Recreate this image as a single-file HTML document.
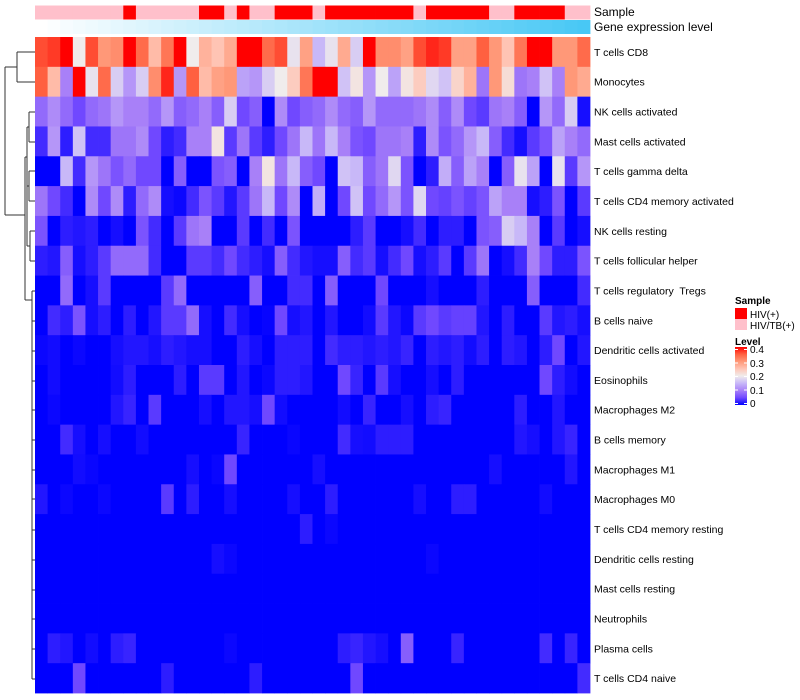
<!DOCTYPE html>
<html><head><meta charset="utf-8"><style>
html,body{margin:0;padding:0;background:#fff;width:800px;height:700px;overflow:hidden;font-family:"Liberation Sans",sans-serif}
svg text{font-family:"Liberation Sans",sans-serif;white-space:pre}
</style></head><body>
<svg id="chart" width="800" height="700" xmlns="http://www.w3.org/2000/svg">
<g id="dendro" stroke="#333" stroke-width="1" fill="none">
<path d="M5,67 V215 M5,67 H17 M5,215 H25 M17,52 V82 M17,52 H35 M17,82 H35"/>
<path d="M25,157 V300 M25,157 H27 M25,300 H32"/>
<path d="M27,127 V186 M27,127 H29 M27,186 H29 M29,112 V142 M29,112 H35 M29,142 H35 M29,171 V201 M29,171 H35 M29,201 H35"/>
<path d="M27,186 V246 M27,246 H30 M30,231 V261 M30,231 H35 M30,261 H35"/>
<path d="M32,291 V679 M32,291 H35 M32,321 H35 M32,351 H35 M32,381 H35 M32,410 H35 M32,440 H35 M32,470 H35 M32,499 H35 M32,530 H35 M32,560 H35 M32,590 H35 M32,619 H35 M32,649 H35 M32,679 H35"/>
</g>
<g id="cells"></g>
<g id="annot"></g>
<g id="labels"></g>
<text x="594" y="16" font-size="12">Sample</text>
<text x="594" y="31" font-size="12">Gene expression level</text>
<g>
<text x="735" y="304" font-size="10" font-weight="bold">Sample</text>
<rect x="735" y="308" width="12" height="11" fill="#FF0000"/>
<text x="750" y="318" font-size="10">HIV(+)</text>
<rect x="735" y="319" width="12" height="11" fill="#FFC0CB"/>
<text x="750" y="329" font-size="10">HIV/TB(+)</text>
</g>
<defs><linearGradient id="lg" x1="0" y1="1" x2="0" y2="0">
<stop offset="0" stop-color="#0000FF"/><stop offset="0.125" stop-color="#7048FF"/><stop offset="0.25" stop-color="#A880F8"/><stop offset="0.375" stop-color="#C8B8F8"/><stop offset="0.5" stop-color="#F0ECEC"/><stop offset="0.625" stop-color="#FFC4B4"/><stop offset="0.75" stop-color="#FF9878"/><stop offset="0.875" stop-color="#FF6040"/><stop offset="1" stop-color="#FF0000"/>
</linearGradient></defs>
<g>
<text x="735" y="345" font-size="10" font-weight="bold">Level</text>
<rect x="735" y="347" width="12" height="58" fill="url(#lg)"/>
<g stroke="#fff" stroke-width="1"><path d="M735,349.5h3M744,349.5h3M735,363h3M744,363h3M735,376.5h3M744,376.5h3M735,390h3M744,390h3M735,403.5h3M744,403.5h3"/></g>
<text x="750" y="353" font-size="10">0.4</text>
<text x="750" y="367" font-size="10">0.3</text>
<text x="750" y="380" font-size="10">0.2</text>
<text x="750" y="394" font-size="10">0.1</text>
<text x="750" y="407" font-size="10">0</text>
</g>
</svg>
<script>
const rowNames = ["T cells CD8","Monocytes","NK cells activated","Mast cells activated","T cells gamma delta","T cells CD4 memory activated","NK cells resting","T cells follicular helper","T cells regulatory  Tregs","B cells naive","Dendritic cells activated","Eosinophils","Macrophages M2","B cells memory","Macrophages M1","Macrophages M0","T cells CD4 memory resting","Dendritic cells resting","Mast cells resting","Neutrophils","Plasma cells","T cells CD4 naive"];
const sampleGroups = "PPPPPPPRPPPPPRRPRPPRRRPRRRRRRRPRRRRRPPRRRRPP";
const r01 = [36,37,40,20,36,30,31,40,34,26,33,40,20,27,25,28,40,40,34,36,19,29,15,19,28,17,40,31,31,29,36,38,37,29,29,35,30,25,33,40,40,30,30,34];
const r02 = [35,26,10,40,19,34,17,12,17,31,38,12,35,26,29,30,13,12,17,20,24,33,40,40,16,21,12,20,13,21,24,18,16,23,27,9,30,22,9,10,16,10,30,28];
const r03 = [8,11,8,5,8,9,12,10,10,8,12,7,8,10,7,17,5,7,0,11,5,7,8,11,8,7,12,8,8,8,9,11,7,11,5,4,9,10,7,0,12,8,17,1];
const r04 = [3,12,2,16,3,3,9,9,11,5,2,3,10,10,21,4,9,4,2,5,9,15,9,15,10,6,5,9,9,10,2,11,6,8,12,15,7,3,1,4,6,13,10,8];
const r05 = [0,0,15,3,12,9,6,8,5,5,0,7,0,0,6,7,0,10,21,9,15,7,5,0,16,15,7,9,18,6,0,2,14,7,13,10,0,7,19,13,0,19,4,12];
const r06 = [9,5,3,0,11,5,11,2,8,11,1,0.5,3,6,4,1.5,4,9,15,5,11,0,14,0,5,16,5,8,12,6,18,5,4.5,6,4.5,6,13,10,10,1,2,6,0,4];
const r07 = [6,0,2,1.5,2,0,1,0,6,3,0,4,9,10,0,0,4,0,3,0,6,0,0,0,0,2,4,0,0,1,3,0,2,2,0,6,7,17,15,10,0,4,0,1];
const r08 = [2,1.5,7,1,2,4,8,8,8,3,0,0,4,4,3,5,3,2,1,7,3,1.5,1,1,7,3,4,1,3,5,1,2,4,0,4,9,0,1,3,10,5,2,2,6];
const r09 = [0,0,8,0,1,4,0,0,0,0,4,8,0,0,0,0,0,7,0,0,3,3,0,7,0,0,0,5,0,0,0,1,0,0,0,2,0,0,0,7,0,0,0,3];
const r10 = [0,3,2,6,1,2,0,2,0,1.5,4,4,8,1,0,3,1,0,0.3,5,1,1.5,0,1.5,0,0,0.8,4,1.5,0.5,4,5,4,4.5,4.5,1.5,0,2,0,0,4,1.5,2,1];
const r11 = [0.5,0.8,0,0.5,0,0,1,1.5,1.5,1,2,1.5,1,1,0,0,2,1,0,2,2,2,0,3,2,2,1.5,2,1.5,2.5,0,2,1.5,2,0.8,2,0,2,1.5,0,2,5,0,1.5];
const r12 = [0,0.8,0,0,0,0,0.8,2,0,0,0,2,0,4,4,0,1.5,0,0.5,2,2,1.5,0,0,5,2.5,0,4,1,0,0,1,0,2,0,0,0,0,0,0,5,2,0.8,0];
const r13 = [0,0.5,0,0,0,0,1.5,2.5,0,4,0,0,0,1,0,1.5,1.5,1,5,0.8,0,0,0,0,0.8,0,2.5,0,0,1,0,2,2.5,0,0,0,0,0,2,0,0,1.5,0,0];
const r14 = [0,0,3,1,0,1,0,0,0.8,0,0,0,0,0,0,0,2.5,0,0,0,0.4,0,0,0,3,1,0.8,2,2,2,0,0,0,0,0,0,0,0,1.5,1,0,1.5,2.5,0];
const r15 = [0,0,0,0.8,0.4,0,0,0,0,0,0,0,1,0,0.4,5,0,0,0,0,0,0,1,0,0,0,0,0,0,0,0,0,0,0,0,0,1,0,0,0,0,0,1.5,0];
const r16 = [1.5,0,0.5,0,0,0.5,0,0,0,0,4,0,2,0,0,1,0,0,0,0,1,0,0,2,0,0,0,0,0,0,1,0,0,2,2,0,0,0,0,0,0.8,0,0,0];
const r17 = [0,0,0,0,0,0,0,0,0,0,0,0,0,0,0,0,0,0,0,0,0,2,0,0.5,0,0,0,0,0,0,0,0,0,0,0,0,0,0,0,0,0,0,0,0];
const r18 = [0,0,0,0,0,0,0,0,0,0,0,0,0,0,1,0.5,0,0,0,0,0,0,0,0,0,0,0,0,0,0,0,0.5,0,0,0,0,0,0,0,0,0,0,0,0];
const r19 = [0,0,0,0,0,0,0,0,0,0,0,0,0,0,0,0,0,0,0,0,0,0,0,0,0,0,0,0,0,0,0,0,0,0,0,0,0,0,0,0,0,0,0,0];
const r20 = [0,0,0,0,0,0,0,0,0,0,0,0,0,0,0,0,0,0,0,0,0,0,0,0,0,0,0,0,0,0,0,0,0,0,0,0,0,0,0,0,0,0,0,0];
const r21 = [0,2,1.5,0,0.8,0,2,2.5,0,0,0,0,0,0,0,0.5,0,0,0,0,0,0,0,0,2,2.5,1.5,1,0,7,0,0,0,2.5,0,0,0,0,0,0,3,0,2.5,0];
const r22 = [0,0,0,5,0,0,0,0,0,0,2,0,0,0,0,0,0,2,0,0,0,0,0,0,0,5,0,0,0,0,0,0,0,0,0,0,0,0,0,0,0,0,0,3];
const matrix = [r01,r02,r03,r04,r05,r06,r07,r08,r09,r10,r11,r12,r13,r14,r15,r16,r17,r18,r19,r20,r21,r22];

const NS = "http://www.w3.org/2000/svg";
const X0 = 35, X1 = 590, Y0 = 37, Y1 = 693;
const nCols = r01.length, nRows = matrix.length;
const colW = (X1 - X0) / nCols, rowH = (Y1 - Y0) / nRows;
const xPos = c => X0 + c * colW;
const yPos = r => Y0 + r * rowH;
const stops = [[0,[0,0,255]],[0.05,[112,72,255]],[0.1,[168,128,248]],[0.15,[200,184,248]],[0.2,[240,236,236]],[0.25,[255,196,180]],[0.3,[255,152,120]],[0.35,[255,96,64]],[0.4,[255,0,0]]];
function colorOf(v){
  v = Math.max(0, Math.min(0.4, v));
  for (let i = 1; i < stops.length; i++) {
    if (v <= stops[i][0]) {
      const [a, ca] = stops[i-1], [b, cb] = stops[i];
      const t = (v - a) / (b - a);
      return "rgb(" + ca.map((c, k) => Math.round(c + (cb[k] - c) * t)).join(",") + ")";
    }
  }
  return "rgb(255,0,0)";
}
const cells = document.getElementById("cells");
matrix.forEach((row, r) => {
  row.forEach((val, c) => {
    const el = document.createElementNS(NS, "rect");
    el.setAttribute("x", xPos(c).toFixed(2));
    el.setAttribute("y", yPos(r).toFixed(2));
    el.setAttribute("width", (colW + 0.4).toFixed(2));
    el.setAttribute("height", (rowH + 0.4).toFixed(2));
    el.setAttribute("fill", colorOf(val / 100));
    
    
    cells.appendChild(el);
  });
});
const annot = document.getElementById("annot");
for (let c = 0; c < nCols; c++) {
  const s = document.createElementNS(NS, "rect");
  s.setAttribute("x", xPos(c).toFixed(2)); s.setAttribute("y", 5.5);
  s.setAttribute("width", (colW + 0.4).toFixed(2)); s.setAttribute("height", 14);
  s.setAttribute("fill", sampleGroups[c] === "R" ? "#FF0000" : "#FFC0CB");
  
  
  annot.appendChild(s);
  const g = document.createElementNS(NS, "rect");
  const t = c / (nCols - 1);
  const col = "rgb(" + Math.round(255 - t * 183) + "," + Math.round(255 - t * 55) + "," + Math.round(255 - t * 10) + ")";
  g.setAttribute("x", xPos(c).toFixed(2)); g.setAttribute("y", 20);
  g.setAttribute("width", (colW + 0.4).toFixed(2)); g.setAttribute("height", 14);
  g.setAttribute("fill", col);
  
  
  annot.appendChild(g);
}
const labels = document.getElementById("labels");
rowNames.forEach((n, r) => {
  const t = document.createElementNS(NS, "text");
  t.setAttribute("x", 594);
  t.setAttribute("y", (yPos(r) + rowH / 2 + 4).toFixed(1));
  t.setAttribute("font-size", "10.5");
  t.textContent = n;
  
  
  labels.appendChild(t);
});
</script>
</body></html>
